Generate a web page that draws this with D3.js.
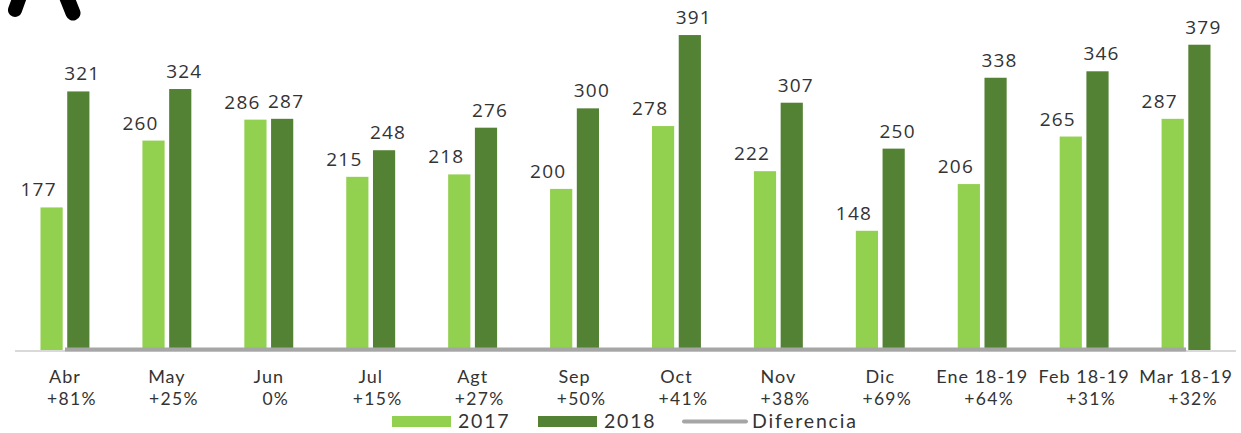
<!DOCTYPE html>
<html>
<head>
<meta charset="utf-8">
<script src="https://cdn.jsdelivr.net/npm/d3@7"></script>
<style>
  html, body { margin: 0; padding: 0; background: #fff; }
  svg { display: block; }
  text { font-family: "Open Sans", "Noto Sans", sans-serif; fill: #333; }
  text.lt { font-family: Lato, "Open Sans", sans-serif; }
</style>
</head>
<body>
<svg id="chart" width="1241" height="433"></svg>
<script>
const categories = ["Abr", "May", "Jun", "Jul", "Agt", "Sep", "Oct", "Nov", "Dic", "Ene 18-19", "Feb 18-19", "Mar 18-19"];
const diferencia = ["+81%", "+25%", "0%", "+15%", "+27%", "+50%", "+41%", "+38%", "+69%", "+64%", "+31%", "+32%"];
const values2017 = [177, 260, 286, 215, 218, 200, 278, 222, 148, 206, 265, 287];
const values2018 = [321, 324, 287, 248, 276, 300, 391, 307, 250, 338, 346, 379];
const seriesNames = ["2017", "2018"];

const colors = { "2017": "#92D050", "2018": "#548235" };
const svg = d3.select("#chart");

const x0 = d3.scaleBand().domain(categories).range([14, 1237]).paddingInner(0.52).paddingOuter(0.26);
const x1 = d3.scaleBand().domain(seriesNames).range([0, x0.bandwidth()]).paddingInner(0.17);
const y = d3.scaleLinear().domain([0, 400]).range([350, 27.8]);

// decorative black shape at top-left (cropped glyph)
svg.append("line").attr("x1", 23).attr("y1", -12).attr("x2", 15).attr("y2", 10)
  .attr("stroke", "#000").attr("stroke-width", 14).attr("stroke-linecap", "round");
svg.append("line").attr("x1", 63).attr("y1", -12).attr("x2", 73).attr("y2", 13)
  .attr("stroke", "#000").attr("stroke-width", 15).attr("stroke-linecap", "round");

// baseline axis
svg.append("line").attr("x1", 15).attr("x2", 1236).attr("y1", y(0) + 1).attr("y2", y(0) + 1)
  .attr("stroke", "#D9D9D9").attr("stroke-width", 2);

const data = categories.map((c, i) => ({ cat: c, pct: diferencia[i], "2017": values2017[i], "2018": values2018[i] }));

const groups = svg.append("g").selectAll("g").data(data).join("g")
  .attr("transform", d => `translate(${x0(d.cat)},0)`);

groups.selectAll("rect").data(d => seriesNames.map(s => ({ s, v: d[s] }))).join("rect")
  .attr("x", d => x1(d.s))
  .attr("width", x1.bandwidth())
  .attr("y", d => y(d.v))
  .attr("height", d => y(0) - y(d.v))
  .attr("fill", d => colors[d.s]);

groups.selectAll("text.val").data(d => seriesNames.map(s => ({ s, v: d[s] }))).join("text")
  .attr("class", "val")
  .attr("x", d => x1(d.s) + x1.bandwidth() / 2 + (d.s === "2017" ? -13 : 4))
  .attr("y", d => y(d.v) - 11)
  .attr("text-anchor", "middle")
  .attr("font-size", 19)
  .attr("letter-spacing", 1.2)
  .text(d => d.v);

// Diferencia line (at the baseline)
const line = d3.line().x(d => x0(d.cat) + x0.bandwidth() / 2).y(() => y(0) - 0.5);
svg.append("path").datum(data).attr("d", line)
  .attr("fill", "none").attr("stroke", "#A6A6A6").attr("stroke-width", 4);

// category labels
const lab = svg.append("g").selectAll("g").data(data).join("g")
  .attr("transform", d => `translate(${x0(d.cat) + x0.bandwidth() / 2},0)`);
lab.append("text").attr("class", "lt").attr("y", 383).attr("text-anchor", "middle").attr("font-size", 18)
  .attr("letter-spacing", 1).text(d => d.cat);
lab.append("text").attr("class", "lt").attr("x", 7).attr("y", 405).attr("text-anchor", "middle").attr("font-size", 17.5)
  .attr("letter-spacing", 1.3).text(d => d.pct);

// legend
const leg = svg.append("g");
const legItems = [
  { name: "2017", type: "rect", color: colors["2017"], x: 392, tx: 458 },
  { name: "2018", type: "rect", color: colors["2018"], x: 538, tx: 604 },
  { name: "Diferencia", type: "line", color: "#A6A6A6", x: 682, tx: 752 }
];
legItems.forEach(it => {
  if (it.type === "rect") {
    leg.append("rect").attr("x", it.x).attr("y", 416).attr("width", 59).attr("height", 11).attr("fill", it.color);
  } else {
    leg.append("line").attr("x1", it.x + 2).attr("x2", it.x + 64).attr("y1", 421.5).attr("y2", 421.5)
      .attr("stroke", it.color).attr("stroke-width", 4).attr("stroke-linecap", "round");
  }
  leg.append("text").attr("class", "lt").attr("x", it.tx).attr("y", 427.5).attr("font-size", 19.5)
    .attr("letter-spacing", 1.8).text(it.name);
});
</script>
</body>
</html>
